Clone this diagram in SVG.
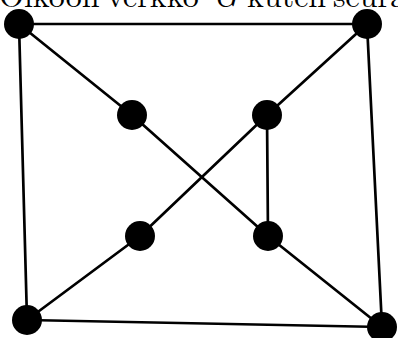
<svg xmlns="http://www.w3.org/2000/svg" width="398" height="338" viewBox="0 0 398 338">
<style>
.e{stroke:#000;stroke-width:2.7;fill:none;stroke-linecap:round}
.n{fill:#000}
.t{font-family:"Latin Modern Roman","Liberation Serif",serif;font-size:32px;fill:#000}
</style>
<rect width="398" height="338" fill="#fff"/>
<text class="t" y="7"><tspan x="-1">Olkoon</tspan><tspan x="107">verkko</tspan><tspan x="213" font-style="italic">G</tspan><tspan x="247">kuten</tspan><tspan x="333">seura</tspan></text>
<g id="edges">
<line class="e" x1="19" y1="24" x2="367" y2="24"/>
<line class="e" x1="19" y1="24" x2="27" y2="320"/>
<line class="e" x1="19" y1="24" x2="132" y2="115"/>
<line class="e" x1="132" y1="115" x2="268" y2="236"/>
<line class="e" x1="268" y1="236" x2="382" y2="327"/>
<line class="e" x1="367" y1="24" x2="267" y2="115"/>
<line class="e" x1="267" y1="115" x2="140" y2="236"/>
<line class="e" x1="140" y1="236" x2="27" y2="320"/>
<line class="e" x1="267" y1="115" x2="268" y2="236"/>
<line class="e" x1="367" y1="24" x2="382" y2="327"/>
<line class="e" x1="27" y1="320" x2="382" y2="327"/>
</g>
<g id="n1"><circle class="n" cx="19" cy="24" r="15"/></g>
<g id="n2"><circle class="n" cx="367" cy="24" r="15"/></g>
<g id="n3"><circle class="n" cx="132" cy="115" r="15"/></g>
<g id="n4"><circle class="n" cx="267" cy="115" r="15"/></g>
<g id="n5"><circle class="n" cx="140" cy="236" r="15"/></g>
<g id="n6"><circle class="n" cx="268" cy="236" r="15"/></g>
<g id="n7"><circle class="n" cx="27" cy="320" r="15"/></g>
<g id="n8"><circle class="n" cx="382" cy="327" r="15"/></g>
</svg>
